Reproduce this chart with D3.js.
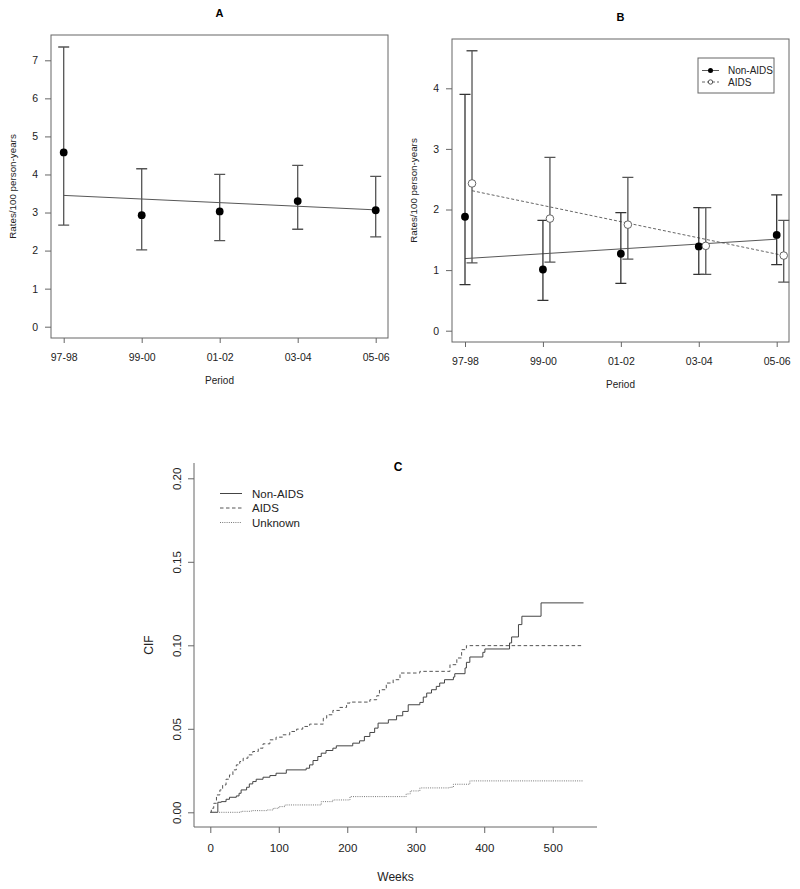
<!DOCTYPE html>
<html>
  <head>
    <meta charset="utf-8">
    <title>Rates and CIF</title>
    <script src="https://cdn.jsdelivr.net/npm/d3@7"></script>
    <style>
      body { margin: 0; background: #fff; }
      svg { font-family: "Liberation Sans", Arial, Helvetica, sans-serif; }
      .tick text { fill: #222; }
    </style>
  </head>

  <body>
    <div id="chart"></div>

    <script>
      // data: panel A
      periods = ["97-98", "99-00", "01-02", "03-04", "05-06"];
      rateAll = [4.58, 2.93, 3.03, 3.30, 3.06];
      lowAll = [2.67, 2.02, 2.26, 2.56, 2.36];
      highAll = [7.35, 4.15, 4.00, 4.24, 3.95];
      trendAll = [3.45, 3.07];

      // data: panel B
      rateNonAids = [1.88, 1.01, 1.27, 1.39, 1.58];
      lowNonAids = [0.76, 0.50, 0.78, 0.93, 1.09];
      highNonAids = [3.90, 1.82, 1.95, 2.03, 2.24];
      rateAids = [2.43, 1.85, 1.75, 1.40, 1.24];
      lowAids = [1.12, 1.13, 1.18, 0.93, 0.80];
      highAids = [4.62, 2.86, 2.53, 2.03, 1.82];
      trendNonAids = [1.19, 1.51];
      trendAids = [2.31, 1.24];

      // data: panel C, step functions [week, CIF]
      cifNonAids = [[0, 0], [11, 0.006], [16, 0.0064], [23, 0.0078], [28, 0.009], [38, 0.0098],
        [42, 0.0114], [45, 0.0134], [53, 0.015], [57, 0.017], [62, 0.0184], [67, 0.0198],
        [77, 0.021], [87, 0.022], [96, 0.0234], [111, 0.0254], [140, 0.0264], [145, 0.0284],
        [150, 0.031], [157, 0.0334], [162, 0.0354], [169, 0.037], [179, 0.0384], [184, 0.0398],
        [208, 0.0414], [218, 0.0428], [225, 0.0454], [233, 0.0478], [240, 0.0504], [245, 0.0534],
        [260, 0.0554], [272, 0.0578], [281, 0.0604], [289, 0.0644], [306, 0.0658], [311, 0.069],
        [316, 0.0714], [323, 0.0734], [330, 0.0754], [335, 0.0774], [342, 0.0794], [355, 0.081],
        [357, 0.083], [372, 0.0864], [374, 0.0898], [379, 0.093], [398, 0.0958], [401, 0.0978],
        [437, 0.1014], [440, 0.105], [450, 0.1124], [455, 0.1174], [483, 0.1254], [545, 0.1254]];
      cifAids = [[0, 0], [1.5, 0.0024], [5, 0.0054], [9, 0.0104], [14, 0.0134], [18, 0.0164],
        [23, 0.0198], [28, 0.0224], [33, 0.0254], [38, 0.0284], [43, 0.0304], [48, 0.0324],
        [55, 0.0344], [62, 0.0364], [70, 0.0384], [77, 0.041], [87, 0.0434], [96, 0.045],
        [106, 0.0464], [116, 0.0484], [126, 0.0498], [135, 0.0514], [145, 0.0528], [165, 0.0564],
        [170, 0.0584], [179, 0.061], [189, 0.0628], [199, 0.0654], [204, 0.066], [233, 0.0674],
        [243, 0.0698], [247, 0.0734], [257, 0.0774], [267, 0.0794], [277, 0.0834], [306, 0.0844],
        [350, 0.0884], [360, 0.0924], [367, 0.0974], [374, 0.0998], [545, 0.0998]];
      cifUnknown = [[0, 0], [45, 0.0006], [60, 0.001], [82, 0.0014], [92, 0.0024], [100, 0.0034],
        [109, 0.0044], [162, 0.0064], [179, 0.0074], [204, 0.0094], [286, 0.011], [292, 0.0128],
        [306, 0.0146], [350, 0.015], [355, 0.0168], [379, 0.0188], [545, 0.0188]];
      cifNames = ["Non-AIDS", "AIDS", "Unknown"];
      weekTicks = [0, 100, 200, 300, 400, 500];
      cifTicks = [0, 0.05, 0.10, 0.15, 0.20];

      // page elements
      svg = d3.select("#chart")
        .append("svg")
          .attr("width", 800)
          .attr("height", 889);

      axisColor = "#666";
      lineColor = "#444";
      barColor = "#333";

      // draws an R-like box plot frame with axes
      function frame(g, x, y, box, yTicks) {
        g.append("rect")
          .attr("x", box.left)
          .attr("y", box.top)
          .attr("width", box.right - box.left)
          .attr("height", box.bottom - box.top)
          .attr("fill", "none")
          .attr("stroke", axisColor);
        xAxis = g.append("g")
          .attr("transform", "translate(0," + box.bottom + ")")
          .call(d3.axisBottom(x)
            .tickValues([1, 2, 3, 4, 5])
            .tickFormat(function(d) { return periods[d - 1]; })
            .tickSize(5)
            .tickPadding(11));
        yAxis = g.append("g")
          .attr("transform", "translate(" + box.left + ",0)")
          .call(d3.axisLeft(y)
            .tickValues(yTicks)
            .tickFormat(d3.format("d"))
            .tickSize(6)
            .tickPadding(7));
        [xAxis, yAxis].forEach(function(a) {
          a.select(".domain").remove();
          a.selectAll(".tick line").attr("stroke", axisColor);
          a.selectAll(".tick text").style("font-size", "10.5px");
        });
      }

      function errorBars(g, x, y, low, high, shift, color) {
        g.selectAll(null)
          .data(periods)
          .enter().append("path")
            .attr("fill", "none")
            .attr("stroke", color)
            .attr("stroke-width", 1.3)
            .attr("d", function(d, i) {
              let cx = x(i + 1 + shift);
              return "M" + (cx - 5.5) + "," + y(high[i]) + "H" + (cx + 5.5)
                + "M" + cx + "," + y(high[i]) + "V" + y(low[i])
                + "M" + (cx - 5.5) + "," + y(low[i]) + "H" + (cx + 5.5);
            });
      }

      function labels(g, box, title, titleY, xLabelY, yLabelX) {
        let cx = (box.left + box.right) / 2;
        g.append("text")
          .attr("x", cx)
          .attr("y", titleY)
          .attr("text-anchor", "middle")
          .style("font-size", "11px")
          .style("font-weight", "bold")
          .text(title);
        g.append("text")
          .attr("x", cx)
          .attr("y", xLabelY)
          .attr("text-anchor", "middle")
          .style("font-size", "10px")
          .attr("fill", "#222")
          .text("Period");
        g.append("text")
          .attr("transform", "translate(" + yLabelX + "," + ((box.top + box.bottom) / 2) + ") rotate(-90)")
          .attr("text-anchor", "middle")
          .style("font-size", "9.8px")
          .attr("fill", "#222")
          .text("Rates/100 person-years");
      }

      // ---------- panel A ----------
      boxA = { left: 51, right: 388, top: 35, bottom: 338 };
      xA = d3.scaleLinear().domain([1, 5]).range([63.7, 375.7]);
      yA = d3.scaleLinear().domain([0, 7]).range([326.7, 60.3]);
      gA = svg.append("g");
      frame(gA, xA, yA, boxA, [0, 1, 2, 3, 4, 5, 6, 7]);
      labels(gA, boxA, "A", 17, 384, 16);
      gA.append("line")
        .attr("x1", xA(1)).attr("y1", yA(trendAll[0]))
        .attr("x2", xA(5)).attr("y2", yA(trendAll[1]))
        .attr("stroke", lineColor)
        .attr("stroke-width", 0.9);
      errorBars(gA, xA, yA, lowAll, highAll, 0, "#555");
      gA.selectAll(".ptA")
        .data(rateAll)
        .enter().append("circle")
          .attr("cx", function(d, i) { return xA(i + 1); })
          .attr("cy", function(d) { return yA(d); })
          .attr("r", 3.9)
          .attr("fill", "#000");

      // ---------- panel B ----------
      boxB = { left: 452, right: 789, top: 39, bottom: 342 };
      xB = d3.scaleLinear().domain([1, 5]).range([465, 776.7]);
      yB = d3.scaleLinear().domain([0, 4]).range([330.7, 88.3]);
      shiftAids = 0.09;
      gB = svg.append("g");
      frame(gB, xB, yB, boxB, [0, 1, 2, 3, 4]);
      labels(gB, boxB, "B", 21, 388, 417);
      gB.append("line")
        .attr("x1", xB(1)).attr("y1", yB(trendNonAids[0]))
        .attr("x2", xB(5)).attr("y2", yB(trendNonAids[1]))
        .attr("stroke", lineColor)
        .attr("stroke-width", 0.9);
      gB.append("line")
        .attr("x1", xB(1 + shiftAids)).attr("y1", yB(trendAids[0]))
        .attr("x2", xB(5 + shiftAids)).attr("y2", yB(trendAids[1]))
        .attr("stroke", "#555")
        .attr("stroke-width", 0.9)
        .attr("stroke-dasharray", "3,2");
      errorBars(gB, xB, yB, lowNonAids, highNonAids, 0, barColor);
      errorBars(gB, xB, yB, lowAids, highAids, shiftAids, "#555");
      gB.selectAll(".ptN")
        .data(rateNonAids)
        .enter().append("circle")
          .attr("cx", function(d, i) { return xB(i + 1); })
          .attr("cy", function(d) { return yB(d); })
          .attr("r", 3.9)
          .attr("fill", "#000");
      gB.selectAll(".ptO")
        .data(rateAids)
        .enter().append("circle")
          .attr("cx", function(d, i) { return xB(i + 1 + shiftAids); })
          .attr("cy", function(d) { return yB(d); })
          .attr("r", 3.8)
          .attr("fill", "#fff")
          .attr("stroke", "#555")
          .attr("stroke-width", 0.9);

      // legend B
      legB = gB.append("g").attr("transform", "translate(698,58)");
      legB.append("rect")
        .attr("width", 76).attr("height", 35)
        .attr("fill", "#fff").attr("stroke", axisColor);
      [["Non-AIDS", true], ["AIDS", false]].forEach(function(e, i) {
        let ly = 12.5 + i * 11.5;
        legB.append("line")
          .attr("x1", 4).attr("x2", 21).attr("y1", ly).attr("y2", ly)
          .attr("stroke", e[1] ? lineColor : "#555")
          .attr("stroke-width", 0.9)
          .attr("stroke-dasharray", e[1] ? null : "3,2");
        legB.append("circle")
          .attr("cx", 12.5).attr("cy", ly)
          .attr("r", e[1] ? 2.5 : 2.2)
          .attr("fill", e[1] ? "#000" : "#fff")
          .attr("stroke", e[1] ? "none" : "#555");
        legB.append("text")
          .attr("x", 30).attr("y", ly + 3.5)
          .style("font-size", "10px")
          .attr("fill", "#222")
          .text(e[0]);
      });

      // ---------- panel C ----------
      boxC = { left: 194, right: 597, top: 463, bottom: 827 };
      xC = d3.scaleLinear().domain([0, 500]).range([210.3, 552.7]);
      yC = d3.scaleLinear().domain([0, 0.2]).range([812.3, 478.3]);
      gC = svg.append("g");
      gC.append("path")
        .attr("d", "M" + boxC.left + "," + boxC.top + "V" + boxC.bottom + "H" + boxC.right)
        .attr("fill", "none")
        .attr("stroke", axisColor);
      xAxisC = gC.append("g")
        .attr("transform", "translate(0," + boxC.bottom + ")")
        .call(d3.axisBottom(xC).tickValues(weekTicks).tickSize(6).tickPadding(11));
      yAxisC = gC.append("g")
        .attr("transform", "translate(" + boxC.left + ",0)")
        .call(d3.axisLeft(yC).tickValues(cifTicks).tickFormat(d3.format(".2f")).tickSize(6));
      [xAxisC, yAxisC].forEach(function(a) {
        a.select(".domain").remove();
        a.selectAll(".tick line").attr("stroke", axisColor);
        a.selectAll(".tick text").style("font-size", "11.5px");
      });
      yAxisC.selectAll(".tick text")
        .attr("x", 0).attr("dy", 0)
        .attr("transform", "translate(-13,0) rotate(-90)")
        .attr("text-anchor", "middle");
      gC.append("text")
        .attr("x", 398).attr("y", 471)
        .attr("text-anchor", "middle")
        .style("font-size", "12px")
        .style("font-weight", "bold")
        .text("C");
      gC.append("text")
        .attr("x", (boxC.left + boxC.right) / 2).attr("y", 881)
        .attr("text-anchor", "middle")
        .style("font-size", "12px")
        .attr("fill", "#222")
        .text("Weeks");
      gC.append("text")
        .attr("transform", "translate(153,645) rotate(-90)")
        .attr("text-anchor", "middle")
        .style("font-size", "12px")
        .attr("fill", "#222")
        .text("CIF");

      cifStyles = [
        { data: cifNonAids, dash: null, color: "#444" },
        { data: cifAids, dash: "3.5,2.5", color: "#555" },
        { data: cifUnknown, dash: "1,1.2", color: "#777" }
      ];
      stepLine = d3.line()
        .x(function(d) { return xC(d[0]); })
        .y(function(d) { return yC(d[1]); })
        .curve(d3.curveStepAfter);
      cifStyles.forEach(function(s) {
        gC.append("path")
          .attr("d", stepLine(s.data))
          .attr("fill", "none")
          .attr("stroke", s.color)
          .attr("stroke-width", 1)
          .attr("stroke-dasharray", s.dash);
      });

      // legend C
      cifNames.forEach(function(n, i) {
        let ly = 493.5 + i * 14.5;
        gC.append("line")
          .attr("x1", 220).attr("x2", 242).attr("y1", ly).attr("y2", ly)
          .attr("stroke", cifStyles[i].color)
          .attr("stroke-dasharray", cifStyles[i].dash);
        gC.append("text")
          .attr("x", 252).attr("y", ly + 4)
          .style("font-size", "11.5px")
          .attr("fill", "#222")
          .text(n);
      });
    </script>
  </body>
</html>
